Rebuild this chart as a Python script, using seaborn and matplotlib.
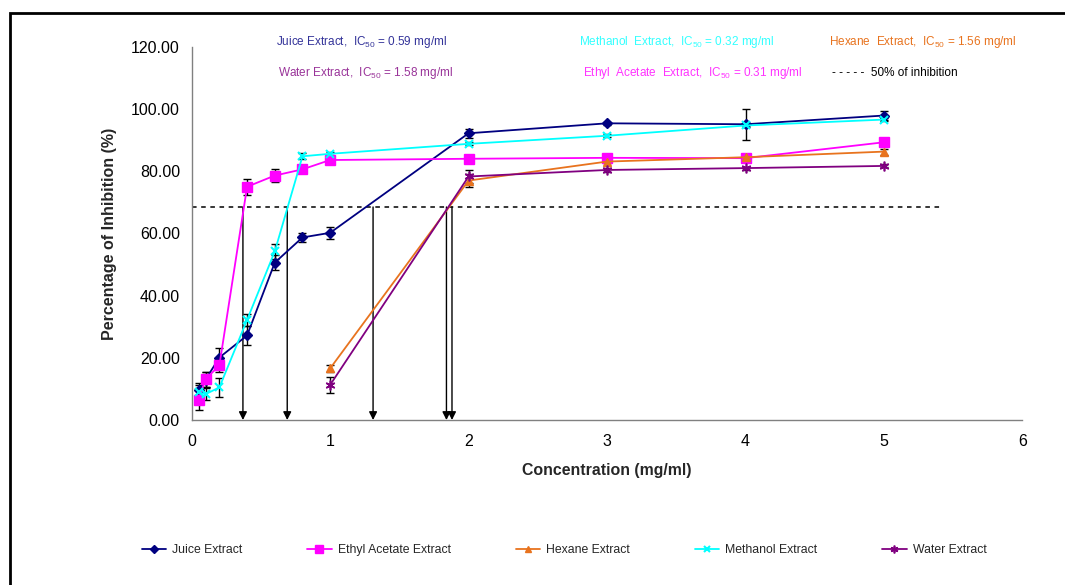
import matplotlib
matplotlib.use("Agg")
import matplotlib.pyplot as plt
from matplotlib.patches import Rectangle
import seaborn as sns
import pandas as pd

# ---- data ----
x_early = [0.05, 0.1, 0.2, 0.4, 0.6, 0.8, 1, 2, 3, 4, 5]
x_late = [1, 2, 3, 4, 5]

juice = [9.5, 13.0, 20.1, 27.2, 50.6, 58.7, 60.2, 92.2, 95.4, 95.1, 97.9]
juice_err = [2.5, 2.5, 3.0, 3.0, 2.5, 1.5, 2.0, 1.5, 0.5, 5.0, 1.5]
ethyl = [6.6, 13.1, 17.6, 75.0, 78.6, 80.6, 83.6, 84.0, 84.3, 84.2, 89.3]
ethyl_err = [3.5, 2.5, 2.0, 2.5, 2.0, 1.0, 0.5, 0.5, 0.5, 0.5, 0.5]
hexane = [16.6, 77.0, 83.1, 84.5, 86.3]
hexane_err = [1.0, 2.0, 0.5, 0.5, 1.0]
methanol = [8.9, 8.3, 10.5, 32.2, 54.2, 84.8, 85.6, 88.8, 91.4, 94.7, 96.6]
methanol_err = [2.5, 2.0, 3.0, 2.0, 2.5, 1.0, 0.5, 0.5, 0.5, 0.5, 0.5]
water = [11.3, 78.3, 80.4, 81.0, 81.7]
water_err = [2.5, 2.0, 0.5, 0.5, 0.5]

threshold = 68.5
threshold_end = 5.42
arrow_x = [0.37, 0.69, 1.31, 1.84, 1.88]

series_names = ["Juice Extract", "Ethyl Acetate Extract", "Hexane Extract",
                "Methanol Extract", "Water Extract"]
ic50_labels = ["Juice Extract,  IC$_{50}$ = 0.59 mg/ml",
               "Water Extract,  IC$_{50}$ = 1.58 mg/ml",
               "Methanol  Extract,  IC$_{50}$ = 0.32 mg/ml",
               "Ethyl  Acetate  Extract,  IC$_{50}$ = 0.31 mg/ml",
               "Hexane  Extract,  IC$_{50}$ = 1.56 mg/ml",
               "- - - - -  50% of inhibition"]
y_ticks = [0, 20, 40, 60, 80, 100, 120]
x_ticks = [0, 1, 2, 3, 4, 5, 6]

# ---- style ----
sns.set_style("white")
plt.rcParams["font.family"] = ["Liberation Sans", "DejaVu Sans"]
plt.rcParams["mathtext.default"] = "regular"

fig = plt.figure(figsize=(10.65, 5.85), dpi=100)
ax = fig.add_axes([0.180, 0.282, 0.780, 0.638])

specs = [
    (x_early, juice, juice_err, "#000080", "D", 5, 1.0),
    (x_early, ethyl, ethyl_err, "#FF00FF", "s", 7, 1.0),
    (x_late, hexane, hexane_err, "#E8731E", "^", 6, 1.0),
    (x_early, methanol, methanol_err, "#00FFFF", "x", 6, 1.5),
    (x_late, water, water_err, "#800080", (6, 2, 0), 7, 1.2),
]

for name, (xs, ys, es, col, mk, ms, mew) in zip(series_names, specs):
    df = pd.DataFrame({"x": xs, "y": ys})
    ax.errorbar(xs, ys, yerr=es, fmt="none", ecolor="black", elinewidth=1.0,
                capsize=3, capthick=1.0, zorder=2)
    sns.lineplot(data=df, x="x", y="y", ax=ax, color=col, marker=mk,
                 markersize=ms, markeredgecolor=col, markerfacecolor=col,
                 markeredgewidth=mew, linewidth=1.3, sort=False,
                 label=name, legend=False, zorder=3)

# threshold line and arrows
ax.plot([0, threshold_end], [threshold, threshold], color="black",
        linestyle=(0, (3, 3)), linewidth=1.1, zorder=1)
for xa in arrow_x:
    ax.annotate("", xy=(xa, 0), xytext=(xa, threshold),
                arrowprops=dict(arrowstyle="-|>", color="black", lw=1.0,
                                mutation_scale=12, shrinkA=0, shrinkB=0),
                zorder=1)

ax.set_xlim(0, 6)
ax.set_ylim(0, 120)
ax.set_xticks(x_ticks)
ax.set_xticklabels([str(t) for t in x_ticks])
ax.set_yticks(y_ticks)
ax.set_yticklabels([f"{t:.2f}" for t in y_ticks])
ax.tick_params(axis="both", labelsize=11.5, colors="#808080", labelcolor="black",
               direction="out", length=5, width=1)
ax.tick_params(axis="x", pad=5)
for s in ["top", "right"]:
    ax.spines[s].set_visible(False)
for s in ["left", "bottom"]:
    ax.spines[s].set_color("#808080")
    ax.spines[s].set_linewidth(1.0)

ax.set_xlabel("Concentration (mg/ml)", fontsize=11.4, fontweight="bold", labelpad=10)
ax.set_ylabel("Percentage of Inhibition (%)", fontsize=11.5, fontweight="bold", labelpad=10)

# IC50 annotations
W, H = 1065, 585
ann = [
    (ic50_labels[0], 276, 42, "#333399"),
    (ic50_labels[1], 278, 73, "#993399"),
    (ic50_labels[2], 579, 42, "#33FFFF"),
    (ic50_labels[3], 583, 73, "#FF33FF"),
    (ic50_labels[4], 829, 42, "#E8731E"),
    (ic50_labels[5], 832, 73, "black"),
]
for txt, px, py, col in ann:
    fig.text(px / W, 1 - py / H, txt, color=col, fontsize=8.5,
             ha="left", va="center")

# legend
handles, labels = ax.get_legend_handles_labels()
fig.legend(handles, labels, loc="center", bbox_to_anchor=(564 / W, 1 - 550 / H),
           ncol=5, frameon=False, fontsize=8.8, handlelength=2.0,
           handletextpad=0.5, columnspacing=5.3, markerscale=0.8)

# chart-area frame
fig.add_artist(Rectangle((10 / W, -0.2), 1.2, 1 - 13 / H + 0.2,
                         transform=fig.transFigure, fill=False,
                         edgecolor="black", linewidth=2.0, zorder=10))

fig.savefig("out.png", dpi=100)
